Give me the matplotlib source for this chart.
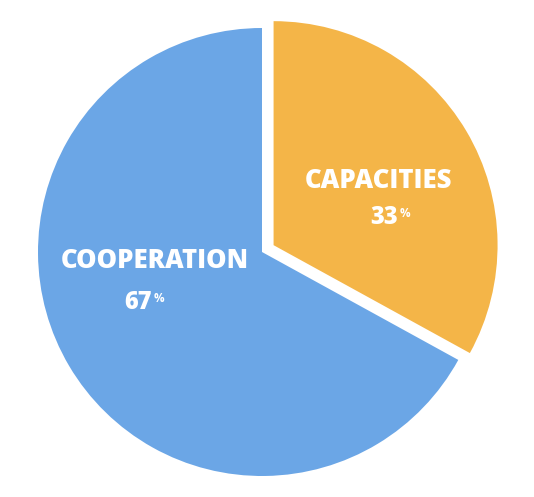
import matplotlib.pyplot as plt

# 数据
labels = ["CAPACITIES", "COOPERATION"]
shares = [33, 67]
colors = ["#f4b548", "#6ba6e6"]
explode = [0.06, 0]

plt.rcParams['font.family'] = ['Open Sans', 'DejaVu Sans']

fig = plt.figure(figsize=(5.34, 4.97), dpi=100)
ax = fig.add_axes([0, 0, 1, 1])

wedges, _ = ax.pie(shares, colors=colors, explode=explode, startangle=90,
                   counterclock=False, radius=1.0,
                   wedgeprops=dict(edgecolor='none', linewidth=0))

# 标签位置（数据坐标，半径=1）
name_pos = [(0.52, 0.315), (-0.478, -0.04)]
# 数字右边缘位置
num_pos = [(0.607, 0.152), (-0.491, -0.227)]

for name, val, (nx, ny), (px, py) in zip(labels, shares, name_pos, num_pos):
    ax.text(nx, ny, name, color='white', fontsize=18.5, fontweight='heavy',
            ha='center', va='center')
    ax.text(px, py, f"{val}", color='white', fontsize=17,
            fontweight='heavy', ha='right', va='center')
    ax.text(px + 0.008, py + 0.02, "%", color='white', fontsize=8.5,
            fontweight='bold', ha='left', va='center')

ax.set_xlim(-262 / 224, 272 / 224)
ax.set_ylim(-245 / 224, 252 / 224)
ax.set_aspect('auto')
ax.axis('off')

plt.savefig('out.png', dpi=100)
